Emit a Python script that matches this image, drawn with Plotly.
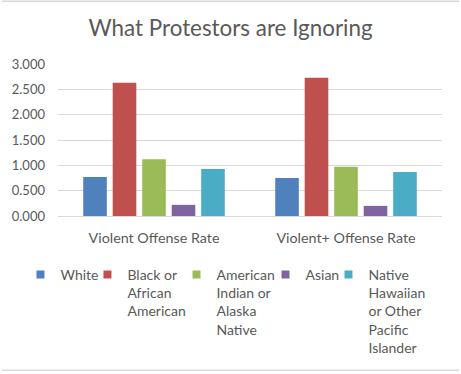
import plotly.graph_objects as go

categories = ["Violent Offense Rate", "Violent+ Offense Rate"]
series_names = ["White", "Black or<br>African<br>American", "American<br>Indian or<br>Alaska<br>Native",
                "Asian", "Native<br>Hawaiian<br>or Other<br>Pacific<br>Islander"]
white = [0.77, 0.75]
black = [2.63, 2.73]
am_indian = [1.12, 0.97]
asian = [0.22, 0.20]
nhpi = [0.93, 0.87]
series_values = [white, black, am_indian, asian, nhpi]
colors = ["#4F81BD", "#C0504D", "#9BBB59", "#8064A2", "#4BACC6"]
y_ticks = [0, 0.5, 1.0, 1.5, 2.0, 2.5, 3.0]

FONT = "Lato"
TXT = "#595959"

fig = go.Figure()
for name, vals, col in zip(series_names, series_values, colors):
    fig.add_trace(go.Bar(x=categories, y=vals, name=name, marker_color=col,
                         marker_line_width=0, showlegend=False))

legend_x = [-0.0964, 0.078, 0.3099, 0.5417, 0.7057]
legend_x = [v - 0.5 / 384 for v in legend_x]
legend_y = -0.2745
for i, (name, col) in enumerate(zip(series_names, colors)):
    lg = "legend" if i == 0 else f"legend{i+1}"
    fig.add_trace(go.Scatter(x=[None], y=[None], mode="markers", name=name,
                             marker=dict(symbol="square", size=8, color=col),
                             legend=lg, showlegend=True))

legends = {}
for i, lx in enumerate(legend_x):
    key = "legend" if i == 0 else f"legend{i+1}"
    legends[key] = dict(x=lx, y=legend_y, xanchor="left", yanchor="top",
                        bgcolor="rgba(0,0,0,0)", valign="top", itemwidth=30,
                        font=dict(family=FONT, size=14, color=TXT))

# chart-area border (top and bottom edges only, as in the reference)
W, H = 461, 374
ML, MR, MT, MB = 58, 19, 64, 157
PW, PH = W - ML - MR, H - MT - MB


def px_x(p):
    return (p - ML) / PW


def px_y(p):
    return (H - MB - p) / PH


border_shapes = [
    dict(type="rect", xref="paper", yref="paper", x0=px_x(2), x1=px_x(W - 2),
         y0=px_y(y0), y1=px_y(y0 + 1.5), line=dict(width=0), fillcolor="#D9D9D9",
         layer="above")
    for y0 in (0, 371.5)
]

fig.update_layout(
    width=W, height=H,
    margin=dict(l=ML, r=MR, t=MT, b=MB),
    paper_bgcolor="white", plot_bgcolor="white",
    title=dict(text="What Protestors are Ignoring", x=0.5, xanchor="center",
               y=1 - 28/374, yanchor="middle", xref="container",
               font=dict(family=FONT, size=22.4, color=TXT)),
    barmode="group", bargap=0.232, bargroupgap=0.2,
    font=dict(family=FONT, color=TXT, size=13),
    xaxis=dict(showgrid=False, showline=True, linecolor="#D9D9D9", linewidth=1,
               ticks="outside", ticklen=9, tickcolor="rgba(0,0,0,0)",
               tickfont=dict(family=FONT, size=14.3, color=TXT)),
    yaxis=dict(range=[0, 3], tickvals=y_ticks, tickformat=".3f",
               showgrid=True, gridcolor="#D9D9D9", gridwidth=1, zeroline=False,
               showline=False, ticks="", ticklabelstandoff=12,
               tickfont=dict(family=FONT, size=13, color=TXT)),
    shapes=border_shapes,
    **legends,
)

fig.write_html("out.html", config={"displayModeBar": False},
               post_script="document.body.style.margin='0px';document.body.style.overflow='hidden';")
